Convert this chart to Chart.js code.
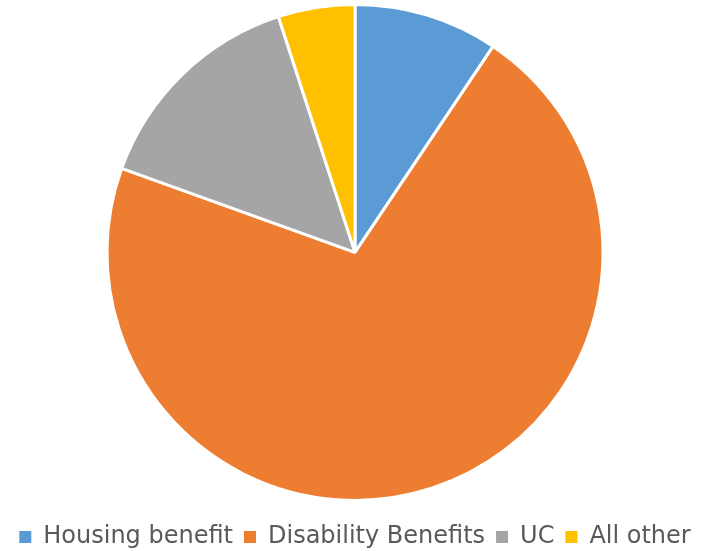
<!DOCTYPE html>
<html>
<head>
<meta charset="utf-8">
<script src="https://cdn.jsdelivr.net/npm/chart.js@4/dist/chart.umd.min.js"></script>
<style>
  html, body { margin: 0; padding: 0; background: #fff; }
  #wrap { width: 702px; height: 551px; }
</style>
</head>
<body>
<div id="wrap"><canvas id="grafica"></canvas></div>
<script>
// categorías y porcentajes de cada prestación
const categorias = ['Housing benefit', 'Disability Benefits', 'UC', 'All other'];
const valores = [9.4, 71.1, 14.5, 5.0];
const colores = ['#5B9BD5', '#ED7D31', '#A5A5A5', '#FFC000'];

// leyenda sin el borde blanco de las porciones
const etiquetasBase = Chart.overrides.pie.plugins.legend.labels.generateLabels;
function generarEtiquetas(chart) {
  return etiquetasBase(chart).map(e => ({ ...e, lineWidth: 0 }));
}

const ctx = document.getElementById('grafica').getContext('2d');
const chart = new Chart(ctx, {
  type: 'pie',
  data: {
    labels: categorias,
    datasets: [{
      data: valores,
      backgroundColor: colores,
      borderColor: '#ffffff',
      borderWidth: 3,
      radius: 248
    }]
  },
  options: {
    responsive: true,
    maintainAspectRatio: false,
    animation: false,
    layout: { padding: { top: 0, left: 8, right: 0, bottom: -8 } },
    plugins: {
      tooltip: { enabled: false },
      legend: {
        position: 'bottom',
        // título vacío: sólo deja un hueco sobre la leyenda
        title: { display: true, text: '', font: { size: 1 }, padding: { top: 8, bottom: 0 } },
        labels: {
          usePointStyle: true,
          pointStyle: 'rect',
          boxWidth: 12,
          boxHeight: 12,
          padding: 11,
          color: '#595959',
          font: { family: "'DejaVu Sans'", size: 24 },
          generateLabels: generarEtiquetas
        }
      }
    }
  }
});
</script>
</body>
</html>
